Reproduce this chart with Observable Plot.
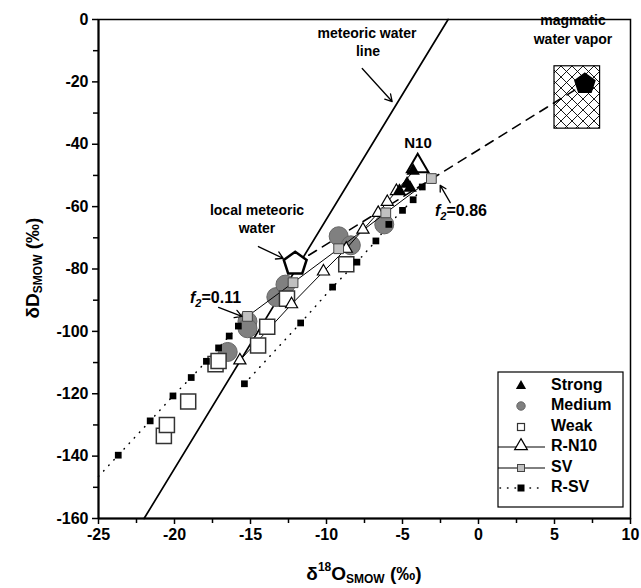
<!DOCTYPE html>
<html>
<head>
<meta charset="utf-8">
<script src="https://cdn.jsdelivr.net/npm/d3@7"></script>
<script src="https://cdn.jsdelivr.net/npm/@observablehq/plot@0.6"></script>
<style>
  html, body { margin: 0; padding: 0; background: white; }
  svg { display: block; }
</style>
</head>
<body>
<div id="chart"></div>
<script>
// ---------- data ----------
const xTicks = [-25, -20, -15, -10, -5, 0, 5, 10];
const xMinor = [-22.5, -17.5, -12.5, -7.5, -2.5, 2.5, 7.5];
const yTicks = [-160, -140, -120, -100, -80, -60, -40, -20, 0];
const yMinor = [-150, -130, -110, -90, -70, -50, -30, -10];

const strongX = [-4.3, -4.7, -5.2, -4.5];
const strongY = [-48.5, -52.7, -55.0, -54.0];

const mediumX = [-16.5, -15.2, -15.2, -13.3, -12.7, -9.2, -8.4, -6.2];
const mediumY = [-106.6, -96.8, -99.0, -89.0, -85.0, -69.5, -72.4, -65.7];

const weakX = [-20.7, -20.5, -19.1, -17.3, -17.1, -14.5, -13.9, -12.6, -8.7];
const weakY = [-133.5, -130.0, -122.5, -110.5, -109.5, -104.5, -98.5, -89.5, -78.5];

const rn10X = [-15.7, -12.3, -10.2, -8.7, -7.6, -6.6, -6.0, -5.4, -4.0];
const rn10Y = [-109.3, -91.3, -80.8, -73.5, -67.4, -62.0, -58.5, -55.0, -47.0];

const svX = [-15.2, -12.2, -9.2, -6.1, -3.1];
const svY = [-95.2, -84.4, -73.5, -62.0, -51.0];

const rsvAX = [-23.7, -21.6, -20.1, -18.9, -17.9, -17.1, -16.4, -15.8];
const rsvAY = [-139.7, -128.7, -120.7, -114.8, -109.6, -105.3, -101.5, -98.3];
const rsvAStartX = [-25];
const rsvAStartY = [-146.5];
const rsvBX = [-15.4, -11.7, -9.6, -8.0, -6.75, -5.9, -5.0, -4.3, -3.7];
const rsvBY = [-116.8, -97.3, -85.8, -77.8, -71.0, -65.7, -61.2, -57.8, -53.7];

const mwlX = [-22, -2];
const mwlY = [-160, 0];

const localX = [-12.06];
const localY = [-78.3];
const magX = [7.0];
const magY = [-20.6];

const boxX1 = [5], boxX2 = [8], boxY1 = [-35], boxY2 = [-15];

const arrowX1 = [-7.65, -14.48, -17.1, -1.86];
const arrowY1 = [-15.7, -72.8, -92.3, -58.7];
const arrowX2 = [-5.68, -12.85, -15.57, -2.52];
const arrowY2 = [-26.3, -76.6, -95.2, -53.2];

const legendLabels = ["Strong", "Medium", "Weak", "R-N10", "SV", "R-SV"];

// ---------- helpers ----------
const pts = (xs, ys) => xs.map((x, i) => ({x, y: ys[i]}));
const strong = pts(strongX, strongY);
const medium = pts(mediumX, mediumY);
const weak = pts(weakX, weakY);
const rn10 = pts(rn10X, rn10Y);
const sv = pts(svX, svY);
const rsvA = pts(rsvAX, rsvAY);
const rsvALine = pts(rsvAStartX, rsvAStartY).concat(rsvA);
const rsvB = pts(rsvBX, rsvBY);
const mwl = pts(mwlX, mwlY);
const local = pts(localX, localY);
const mag = pts(magX, magY);
const mix = local.concat(mag);
const box = boxX1.map((v, i) => ({x1: v, x2: boxX2[i], y1: boxY1[i], y2: boxY2[i]}));
const arrows = arrowX1.map((v, i) => ({x1: v, y1: arrowY1[i], x2: arrowX2[i], y2: arrowY2[i]}));

const pentagon = {
  draw(ctx, size) {
    const r = Math.sqrt(size / Math.PI);
    for (let i = 0; i < 5; i++) {
      const a = -Math.PI / 2 + i * 2 * Math.PI / 5;
      const px = r * Math.cos(a), py = r * Math.sin(a);
      if (i === 0) ctx.moveTo(px, py); else ctx.lineTo(px, py);
    }
    ctx.closePath();
  }
};

const FONT = "'Liberation Sans', Arial, Helvetica, sans-serif";

const svg = Plot.plot({
  width: 641,
  height: 588,
  marginLeft: 98,
  marginRight: 11,
  marginTop: 19,
  marginBottom: 70,
  style: {fontFamily: FONT, fontSize: "16px", fontWeight: "bold", color: "black", background: "white"},
  x: {domain: [-25, 10], label: null},
  y: {domain: [-160, 0], label: null},
  marks: [
    Plot.line(mwl, {x: "x", y: "y", stroke: "black", strokeWidth: 1.7}),
    Plot.rect(box, {x1: "x1", x2: "x2", y1: "y1", y2: "y2", fill: "url(#xhatch)", stroke: "black", strokeWidth: 1.2}),
    Plot.line(mix, {x: "x", y: "y", stroke: "black", strokeWidth: 1.6, strokeDasharray: "9,7"}),
    Plot.line(rsvALine, {x: "x", y: "y", stroke: "black", strokeWidth: 1.5, strokeDasharray: "0.5,7", strokeLinecap: "round"}),
    Plot.line(rsvB, {x: "x", y: "y", stroke: "black", strokeWidth: 1.5, strokeDasharray: "0.5,7", strokeLinecap: "round"}),
    Plot.dot(medium, {x: "x", y: "y", r: 9.5, fill: "#808080", stroke: "#666", strokeWidth: 1}),
    Plot.line(rn10, {x: "x", y: "y", stroke: "black", strokeWidth: 1}),
    Plot.line(sv, {x: "x", y: "y", stroke: "black", strokeWidth: 1}),
    Plot.dot(weak, {x: "x", y: "y", symbol: "square", r: 8.5, fill: "white", stroke: "#333", strokeWidth: 1.5}),
    Plot.dot(rsvA.concat(rsvB), {x: "x", y: "y", symbol: "square", r: 3.8, fill: "black"}),
    Plot.dot(rn10.slice(0, -1), {x: "x", y: "y", symbol: "triangle", r: 4.5, fill: "white", stroke: "black", strokeWidth: 1.2}),
    Plot.dot(rn10.slice(-1), {x: "x", y: "y", symbol: "triangle", r: 8, fill: "white", stroke: "black", strokeWidth: 2}),
    Plot.dot(sv, {x: "x", y: "y", symbol: "square", r: 5.5, fill: "#c0c0c0", stroke: "#444", strokeWidth: 1}),
    Plot.dot(strong, {x: "x", y: "y", symbol: "triangle", r: 5, fill: "black"}),
    Plot.dot(local, {x: "x", y: "y", symbol: pentagon, r: 12, fill: "white", stroke: "black", strokeWidth: 2.5}),
    Plot.dot(mag, {x: "x", y: "y", symbol: pentagon, r: 10.5, fill: "black", stroke: "black"}),
    Plot.arrow(arrows, {x1: "x1", y1: "y1", x2: "x2", y2: "y2", stroke: "black", strokeWidth: 1.3, headLength: 9}),
    Plot.frame({stroke: "black", strokeWidth: 1.5}),
    Plot.ruleX([-25], {stroke: "black", strokeWidth: 2}),
    Plot.ruleY([-160], {stroke: "black", strokeWidth: 2}),
    Plot.axisX(xTicks, {tickSize: 6, tickPadding: 4, tickFormat: d => String(d), fontSize: 16, fontWeight: "bold", label: null, strokeWidth: 1.5}),
    Plot.axisX(xMinor, {tickSize: 5, tickFormat: () => "", label: null, strokeWidth: 1.5}),
    Plot.axisY(yTicks, {tickSize: 6, tickPadding: 4, tickFormat: d => String(d), fontSize: 16, fontWeight: "bold", label: null, strokeWidth: 1.5}),
    Plot.axisY(yMinor, {tickSize: 5, tickFormat: () => "", label: null, strokeWidth: 1.5})
  ]
});

const s = d3.select(svg);
const defs = s.insert("defs", ":first-child");
const pat = defs.append("pattern").attr("id", "xhatch").attr("patternUnits", "userSpaceOnUse")
  .attr("width", 11).attr("height", 11);
pat.append("rect").attr("width", 11).attr("height", 11).attr("fill", "white");
pat.append("path").attr("d", "M0,0L11,11M11,0L0,11").attr("stroke", "black").attr("stroke-width", 0.9);

function addText(x, y, parts, size, anchor = "middle", rotate = null) {
  const t = s.append("text")
    .attr("x", x).attr("y", y)
    .attr("text-anchor", anchor)
    .attr("dominant-baseline", "middle")
    .attr("font-family", FONT)
    .attr("font-weight", "bold")
    .attr("font-size", size)
    .attr("fill", "black");
  if (rotate !== null) t.attr("transform", `rotate(${rotate},${x},${y})`);
  for (const p of parts) {
    const sp = t.append("tspan").text(p.t);
    if (p.size) sp.attr("font-size", p.size);
    if (p.dy) sp.attr("dy", p.dy);
    if (p.italic) sp.attr("font-style", "italic");
  }
  return t;
}

// annotations
addText(367, 34, [{t: "meteoric water"}], 14);
addText(368, 52, [{t: "line"}], 14);
addText(573, 21, [{t: "magmatic"}], 14);
addText(573, 40, [{t: "water vapor"}], 14);
addText(418, 144, [{t: "N10"}], 15);
addText(257, 211, [{t: "local meteoric"}], 14);
addText(257, 229, [{t: "water"}], 14);
addText(190, 299, [{t: "f", italic: true}, {t: "2", size: 11, dy: 5, italic: true}, {t: "=0.11", dy: -5}], 16, "start");
addText(435, 212, [{t: "f", italic: true}, {t: "2", size: 11, dy: 5, italic: true}, {t: "=0.86", dy: -5}], 16, "start");

// axis titles
addText(364, 575, [{t: "δ"}, {t: "18", size: 12, dy: -7}, {t: "O", dy: 7}, {t: "SMOW", size: 12, dy: 5}, {t: " (‰)", dy: -5}], 19);
addText(34, 268, [{t: "δD"}, {t: "SMOW", size: 12, dy: 5}, {t: " (‰)", dy: -5}], 19, "middle", -90);

// legend
const lg = s.append("g");
lg.append("rect").attr("x", 498).attr("y", 372).attr("width", 125).attr("height", 135)
  .attr("fill", "white").attr("stroke", "black").attr("stroke-width", 1.2);
const rowY = [386, 406, 427, 447, 468, 488];
const sx = 521;
const sym = (type, size) => d3.symbol(type, size)();
// Strong
lg.append("path").attr("d", sym(d3.symbolTriangle, 45)).attr("transform", `translate(${sx},${rowY[0]})`).attr("fill", "black");
// Medium
lg.append("circle").attr("cx", sx).attr("cy", rowY[1]).attr("r", 4.2).attr("fill", "#808080").attr("stroke", "#666");
// Weak
lg.append("rect").attr("x", sx - 3.5).attr("y", rowY[2] - 3.5).attr("width", 7).attr("height", 7).attr("fill", "white").attr("stroke", "#333").attr("stroke-width", 1.2);
// R-N10
lg.append("line").attr("x1", 498).attr("x2", 545).attr("y1", rowY[3]).attr("y2", rowY[3]).attr("stroke", "black");
lg.append("path").attr("d", sym(d3.symbolTriangle, 70)).attr("transform", `translate(${sx},${rowY[3] - 1})`).attr("fill", "white").attr("stroke", "black").attr("stroke-width", 1.2);
// SV
lg.append("line").attr("x1", 498).attr("x2", 545).attr("y1", rowY[4]).attr("y2", rowY[4]).attr("stroke", "black");
lg.append("rect").attr("x", sx - 3.5).attr("y", rowY[4] - 3.5).attr("width", 7).attr("height", 7).attr("fill", "#c0c0c0").attr("stroke", "#444");
// R-SV
lg.append("line").attr("x1", 500).attr("x2", 545).attr("y1", rowY[5]).attr("y2", rowY[5]).attr("stroke", "black")
  .attr("stroke-width", 1.5).attr("stroke-dasharray", "0.5,7").attr("stroke-linecap", "round");
lg.append("rect").attr("x", sx - 3.5).attr("y", rowY[5] - 3.5).attr("width", 7).attr("height", 7).attr("fill", "black");
legendLabels.forEach((lab, i) => {
  lg.append("text").attr("x", 551).attr("y", rowY[i]).attr("dominant-baseline", "middle")
    .attr("text-anchor", "start")
    .attr("font-family", FONT).attr("font-weight", "bold").attr("font-size", 16).text(lab);
});

document.getElementById("chart").appendChild(svg);
</script>
</body>
</html>
